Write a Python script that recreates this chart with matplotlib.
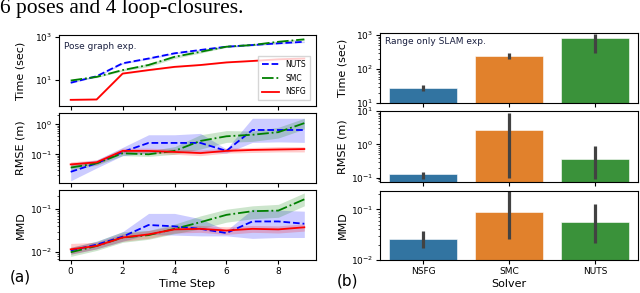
import matplotlib
matplotlib.use("Agg")
import matplotlib.pyplot as plt
import numpy as np

# ---------------- data ----------------
steps = [0, 1, 2, 3, 4, 5, 6, 7, 8, 9]

time_nuts = [7.5, 15, 60, 100, 175, 250, 355, 425, 510, 600]
time_nuts_lo = [7.0, 14, 55, 92, 160, 230, 330, 395, 470, 550]
time_nuts_hi = [8.2, 16, 66, 110, 190, 270, 385, 460, 550, 650]
time_smc = [9.5, 14, 29, 50, 120, 205, 355, 425, 600, 780]
time_smc_lo = [8.8, 13, 26, 42, 100, 180, 330, 395, 550, 700]
time_smc_hi = [10.3, 15, 32, 60, 140, 230, 385, 460, 660, 860]
time_nsfg = [1.2, 1.25, 20, 29, 41, 50, 66, 77, 92, 100]
time_nsfg_lo = [1.12, 1.17, 18.5, 27, 38, 47, 62, 72, 87, 95]
time_nsfg_hi = [1.28, 1.33, 21.5, 31, 44, 53, 70, 82, 97, 106]

rmse_nuts = [0.026, 0.05, 0.12, 0.24, 0.24, 0.24, 0.13, 0.65, 0.65, 0.65]
rmse_nuts_lo = [0.013, 0.035, 0.09, 0.11, 0.12, 0.12, 0.11, 0.25, 0.26, 0.25]
rmse_nuts_hi = [0.05, 0.065, 0.17, 0.45, 0.45, 0.5, 0.15, 1.6, 1.6, 1.6]
rmse_smc = [0.036, 0.05, 0.108, 0.1, 0.13, 0.28, 0.4, 0.45, 0.55, 1.1]
rmse_smc_lo = [0.03, 0.043, 0.09, 0.085, 0.1, 0.15, 0.25, 0.27, 0.35, 0.7]
rmse_smc_hi = [0.045, 0.06, 0.13, 0.13, 0.18, 0.45, 0.62, 0.6, 0.8, 1.6]
rmse_nsfg = [0.046, 0.054, 0.13, 0.13, 0.12, 0.11, 0.13, 0.14, 0.145, 0.15]
rmse_nsfg_lo = [0.038, 0.045, 0.11, 0.11, 0.10, 0.09, 0.11, 0.115, 0.12, 0.12]
rmse_nsfg_hi = [0.056, 0.065, 0.16, 0.16, 0.15, 0.14, 0.16, 0.17, 0.18, 0.18]

mmd_nuts = [0.011, 0.015, 0.023, 0.043, 0.04, 0.035, 0.028, 0.052, 0.052, 0.046]
mmd_nuts_lo = [0.009, 0.012, 0.018, 0.026, 0.025, 0.024, 0.024, 0.021, 0.022, 0.022]
mmd_nuts_hi = [0.013, 0.018, 0.03, 0.08, 0.08, 0.06, 0.032, 0.1, 0.095, 0.09]
mmd_smc = [0.010, 0.014, 0.022, 0.025, 0.035, 0.05, 0.074, 0.09, 0.093, 0.17]
mmd_smc_lo = [0.008, 0.011, 0.017, 0.02, 0.027, 0.035, 0.05, 0.06, 0.065, 0.12]
mmd_smc_hi = [0.013, 0.018, 0.03, 0.032, 0.045, 0.07, 0.1, 0.12, 0.13, 0.24]
mmd_nsfg = [0.0117, 0.014, 0.022, 0.026, 0.034, 0.035, 0.032, 0.035, 0.034, 0.038]
mmd_nsfg_lo = [0.009, 0.012, 0.018, 0.021, 0.028, 0.029, 0.026, 0.029, 0.028, 0.031]
mmd_nsfg_hi = [0.016, 0.017, 0.027, 0.032, 0.041, 0.042, 0.039, 0.042, 0.041, 0.046]

solvers = ["NSFG", "SMC", "NUTS"]
bar_time = [27.6, 236, 800]
bar_time_lo = [22, 200, 300]
bar_time_hi = [33, 300, 1100]
bar_rmse = [0.126, 2.75, 0.36]
bar_rmse_lo = [0.09, 0.1, 0.09]
bar_rmse_hi = [0.15, 8.5, 0.9]
bar_mmd = [0.026, 0.09, 0.057]
bar_mmd_lo = [0.017, 0.026, 0.022]
bar_mmd_hi = [0.038, 0.23, 0.13]

bar_colors = ["#3274a1", "#e1812c", "#3a923a"]

# ---------------- figure ----------------
W, H = 640, 293
fig = plt.figure(figsize=(W / 100, H / 100), dpi=100)
plt.rcParams["font.family"] = ["DejaVu Sans"]

def px_axes(x0, y0, x1, y1):
    return fig.add_axes([x0 / W, 1 - y1 / H, (x1 - x0) / W, (y1 - y0) / H])

TICK = 6.5
LAB = 8

fig.text(0.0, 1 - 13 / H, "6 poses and 4 loop-closures.", family="Liberation Serif",
         fontsize=15.5, va="baseline", ha="left")

# left panel
la1 = px_axes(59, 35, 316, 106)
la2 = px_axes(59, 113, 316, 183)
la3 = px_axes(59, 190, 316, 260)

series = [
    ("NUTS", "b", "--"),
    ("SMC", "g", "-."),
    ("NSFG", "r", "-"),
]
time_data = {"NUTS": (time_nuts, time_nuts_lo, time_nuts_hi),
             "SMC": (time_smc, time_smc_lo, time_smc_hi),
             "NSFG": (time_nsfg, time_nsfg_lo, time_nsfg_hi)}
rmse_data = {"NUTS": (rmse_nuts, rmse_nuts_lo, rmse_nuts_hi),
             "SMC": (rmse_smc, rmse_smc_lo, rmse_smc_hi),
             "NSFG": (rmse_nsfg, rmse_nsfg_lo, rmse_nsfg_hi)}
mmd_data = {"NUTS": (mmd_nuts, mmd_nuts_lo, mmd_nuts_hi),
            "SMC": (mmd_smc, mmd_smc_lo, mmd_smc_hi),
            "NSFG": (mmd_nsfg, mmd_nsfg_lo, mmd_nsfg_hi)}

for ax, data, ylim, yticks, ylabel in [
    (la1, time_data, (0.62, 1240), [10, 1000], "Time (sec)"),
    (la2, rmse_data, (0.011, 2.4), [0.1, 1], "RMSE (m)"),
    (la3, mmd_data, (0.0066, 0.28), [0.01, 0.1], "MMD"),
]:
    for name, c, ls in series:
        m, lo, hi = data[name]
        ax.fill_between(steps, lo, hi, color=c, alpha=0.2, lw=0)
        ax.plot(steps, m, color=c, ls=ls, lw=1.3, label=name)
    ax.set_yscale("log")
    ax.set_ylim(*ylim)
    ax.set_yticks(yticks)
    ax.set_xlim(-0.45, 9.45)
    ax.set_xticks([0, 2, 4, 6, 8])
    ax.tick_params(labelsize=TICK, length=3, width=0.8, pad=2)
    ax.tick_params(which="minor", length=1.5, width=0.5)
    ax.set_ylabel(ylabel, fontsize=LAB, labelpad=2)
    ax.yaxis.set_label_coords(-0.13, 0.5)
    for s in ax.spines.values():
        s.set_linewidth(0.8)
    if ax is not la3:
        ax.tick_params(labelbottom=False)

la1.text(0.02, 0.9, "Pose graph exp.", transform=la1.transAxes, fontsize=6.5,
         va="top", ha="left", color="#1a2040")
leg = la1.legend(loc="lower right", fontsize=5.5, handlelength=2.2, frameon=True,
                 borderpad=0.5, labelspacing=0.6, fancybox=False, edgecolor="#cccccc",
                 bbox_to_anchor=(0.99, 0.03))
la3.set_xlabel("Time Step", fontsize=LAB, labelpad=2)
fig.text(10 / W, 1 - 282 / H, "(a)", fontsize=11, va="baseline", ha="left")

# right panel
ra1 = px_axes(380, 33, 638, 103)
ra2 = px_axes(380, 111, 638, 182)
ra3 = px_axes(380, 191, 638, 260)

xs = np.arange(len(solvers))
for ax, vals, lo, hi, ylim, yticks, ylabel in [
    (ra1, bar_time, bar_time_lo, bar_time_hi, (10, 1150), [10, 100, 1000], "Time (sec)"),
    (ra2, bar_rmse, bar_rmse_lo, bar_rmse_hi, (0.075, 10), [0.1, 1, 10], "RMSE (m)"),
    (ra3, bar_mmd, bar_mmd_lo, bar_mmd_hi, (0.01, 0.23), [0.01, 0.1], "MMD"),
]:
    ax.bar(xs, vals, width=0.8, color=bar_colors, edgecolor="white", linewidth=0.4)
    ax.vlines(xs, lo, hi, color="#424242", lw=2.3)
    ax.set_yscale("log")
    ax.set_ylim(*ylim)
    ax.set_yticks(yticks)
    ax.set_xlim(-0.5, 2.5)
    ax.set_xticks(xs)
    ax.set_xticklabels(solvers)
    ax.tick_params(labelsize=TICK, length=3, width=0.8, pad=2)
    ax.tick_params(which="minor", length=1.5, width=0.5)
    ax.set_ylabel(ylabel, fontsize=LAB, labelpad=2)
    ax.yaxis.set_label_coords(-0.125, 0.5)
    for s in ax.spines.values():
        s.set_linewidth(0.8)
    if ax is not ra3:
        ax.tick_params(labelbottom=False)

ra1.text(0.02, 0.95, "Range only SLAM exp.", transform=ra1.transAxes, fontsize=6.5,
         va="top", ha="left", color="#1a2040")
ra3.set_xlabel("Solver", fontsize=LAB, labelpad=2)
fig.text(337 / W, 1 - 285 / H, "(b)", fontsize=11, va="baseline", ha="left")

fig.savefig("out.png", dpi=100)
